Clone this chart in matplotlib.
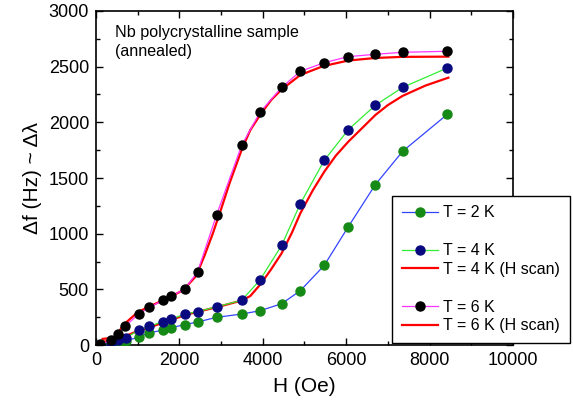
import numpy as np
import matplotlib
matplotlib.use("Agg")
import matplotlib.pyplot as plt
from matplotlib.lines import Line2D
from matplotlib.ticker import MultipleLocator

plt.rcParams['font.family'] = ['Liberation Sans', 'DejaVu Sans']

# field sweep points (Oe) and frequency shift (Hz)
H_2K = [360, 536, 711, 1023, 1279, 1599, 1807, 2126, 2438, 2894, 3493, 3933,
        4452, 4900, 5475, 6051, 6698, 7354, 8425]
df_2K = [6, 10, 40, 69, 111, 132, 156, 183, 207, 249, 278, 308,
         371, 488, 716, 1063, 1440, 1740, 2072]

H_4K = [96, 360, 536, 711, 1023, 1279, 1599, 1807, 2126, 2438, 2894, 3493, 3933,
        4452, 4900, 5475, 6051, 6698, 7354, 8425]
df_4K = [4, 22, 42, 64, 132, 168, 210, 234, 276, 300, 344, 401, 584,
         895, 1269, 1659, 1934, 2153, 2314, 2488]

H_6K = [96, 352, 536, 705, 1023, 1279, 1599, 1807, 2126, 2438, 2894, 3493, 3933,
        4452, 4900, 5475, 6051, 6698, 7354, 8425]
df_6K = [6, 42, 102, 171, 278, 338, 401, 440, 500, 659, 1171, 1793, 2090,
         2314, 2458, 2536, 2590, 2611, 2629, 2638]

# continuous H scans
Hs_4K = [150, 400, 600, 700, 1000, 1300, 1600, 1800, 2100, 2400, 2900, 3500,
         3700, 3950, 4200, 4450, 4700, 4900, 5200, 5475, 5750, 6050, 6400,
         6700, 7000, 7350, 7900, 8450]
dfs_4K = [30, 40, 60, 80, 125, 160, 200, 225, 265, 295, 340, 400,
          440, 548, 680, 823, 1010, 1183, 1390, 1557, 1700, 1826, 1955,
          2066, 2155, 2237, 2330, 2401]

Hs_6K = [160, 300, 500, 600, 700, 1000, 1300, 1600, 1800, 2100, 2400, 2600,
         2800, 3000, 3200, 3500, 3700, 3950, 4200, 4450, 4900, 5450, 6050,
         6700, 7350, 8450]
dfs_6K = [55, 60, 68, 150, 195, 295, 350, 400, 435, 495, 620, 800,
          1000, 1220, 1450, 1760, 1930, 2075, 2200, 2295, 2425, 2505, 2555,
          2578, 2588, 2590]

fig = plt.figure(figsize=(5.73, 4.13), dpi=100)
ax = fig.add_axes([0.1675, 0.1646, 0.7278, 0.8088])

ms = 6.5
l2, = ax.plot(H_2K, df_2K, '-', color='#3344ff', lw=0.9, marker='o', ms=ms,
              mfc='#168a16', mec='#168a16', zorder=3)
l4, = ax.plot(H_4K, df_4K, '-', color='#33ee33', lw=0.9, marker='o', ms=ms,
              mfc='#0a0a80', mec='#0a0a80', zorder=3)
r4, = ax.plot(Hs_4K, dfs_4K, '-', color='#ff0000', lw=1.6, zorder=2)
l6, = ax.plot(H_6K, df_6K, '-', color='#ff33ff', lw=0.9, marker='o', ms=ms,
              mfc='black', mec='black', zorder=3)
r6, = ax.plot(Hs_6K, dfs_6K, '-', color='#ff0000', lw=1.6, zorder=2)

ax.set_xlim(0, 10000)
ax.set_ylim(0, 3000)
ax.xaxis.set_major_locator(MultipleLocator(2000))
ax.xaxis.set_minor_locator(MultipleLocator(1000))
ax.yaxis.set_major_locator(MultipleLocator(500))
ax.yaxis.set_minor_locator(MultipleLocator(250))
ax.tick_params(which='both', direction='in', top=True, right=True,
               labelsize=13, width=1)
ax.tick_params(which='major', length=5, pad=5)
ax.tick_params(which='minor', length=3)
for s in ax.spines.values():
    s.set_linewidth(1.2)

ax.set_xlabel('H (Oe)', fontsize=15, labelpad=6)
ax.set_ylabel('\u0394f (Hz) ~ \u0394\u03bb', fontsize=15, labelpad=5)

ax.text(0.045, 0.855, 'Nb polycrystalline sample\n(annealed)',
        transform=ax.transAxes, fontsize=11.6, va='bottom', ha='left',
        linespacing=1.35)

blank = Line2D([], [], linestyle='none', marker='none')
handles = [l2, blank, l4, r4, blank, l6, r6]
labels = ['T = 2 K', '', 'T = 4 K', 'T = 4 K (H scan)', '',
          'T = 6 K', 'T = 6 K (H scan)']
leg = ax.legend(handles, labels, loc='lower left',
                bbox_to_anchor=(0.71, 0.006), fontsize=11.5, numpoints=1,
                handlelength=2.3, handletextpad=0.3, labelspacing=0.24,
                borderpad=0.6, borderaxespad=0, fancybox=False,
                edgecolor='black', framealpha=1)
leg.get_frame().set_linewidth(1.0)
leg.set_clip_on(False)

fig.savefig('out.png', dpi=100)
